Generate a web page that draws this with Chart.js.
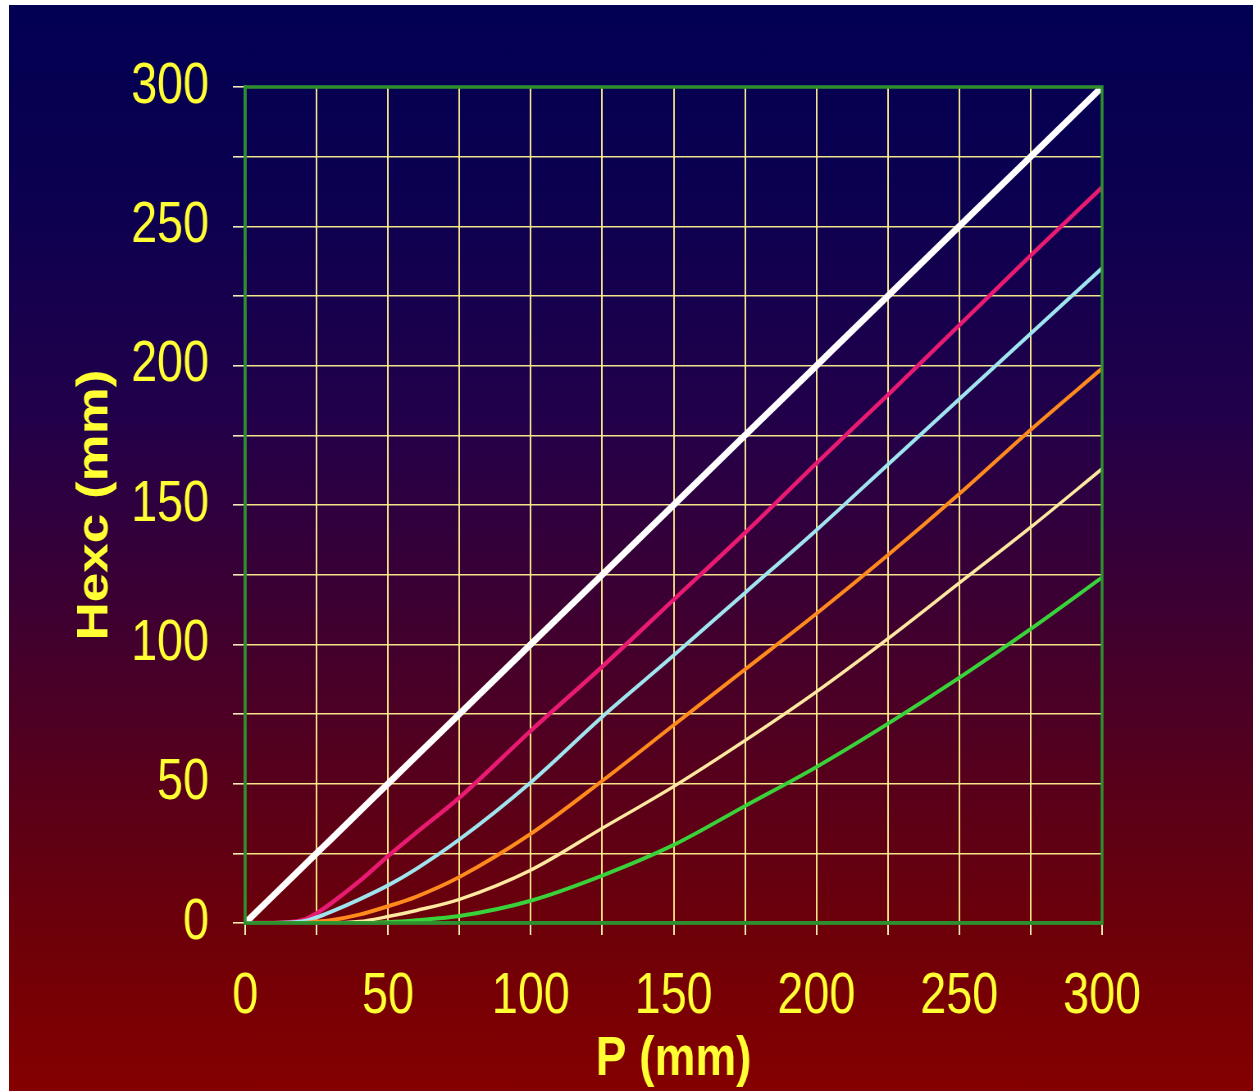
<!DOCTYPE html>
<html>
<head>
<meta charset="utf-8">
<script src="https://cdn.jsdelivr.net/npm/chart.js@4.4.1/dist/chart.umd.min.js"></script>
<style>
  html, body { margin: 0; padding: 0; background: #ffffff; overflow: hidden; }
  #wrap {
    position: absolute; left: 9px; top: 5px; width: 1244px; height: 1086px; overflow: hidden;
    background: linear-gradient(to bottom, #020052 0%, #0c0050 18%, #22004a 38%, #3c0032 55%, #58001a 72%, #6e0008 86%, #850000 100%);
  }
  /* le graphique d'origine est écrasé horizontalement */
  #squeeze { position: absolute; left: 0; top: 0; width: 1517px; height: 1086px; transform: scaleX(0.82); transform-origin: 0 0; }
</style>
</head>
<body>
<div id="wrap"><div id="squeeze"><canvas id="hexcChart" width="1517" height="1086"></canvas></div></div>
<script>
// P (mm) - valeurs communes de l'axe x
const pValues    = [0, 10, 20, 25, 30, 40, 50, 60, 75, 100, 125, 150, 175, 200, 225, 250, 275, 300];
// Hexc (mm) pour chaque courbe
const whiteLine  = [0, 10, 20, 25, 30, 40, 50, 60, 75, 100, 125, 150, 175, 200, 225, 250, 275, 300];
const pinkLine   = [0, 0, 1, 3.5, 7, 15, 24, 32.5, 45, 69, 92, 116, 140, 165, 189.5, 214.5, 239.5, 264];
const cyanLine   = [0, 0, 0.5, 2, 4, 8.5, 13.5, 19.5, 30, 50.5, 74, 96, 118.5, 141, 164.5, 188, 211.5, 235];
const orangeLine = [0, 0, 0, 0.5, 1, 3, 6, 9.5, 16.5, 32, 51, 71, 91, 111, 132, 154, 177, 199];
const yellowLine = [0, 0, 0, 0, 0, 0.5, 2.3, 4.5, 8.5, 19, 34, 49, 65.5, 83, 102, 122, 142, 163];
const greenLine  = [0, 0, 0, 0, 0, 0, 0.3, 1, 2.5, 8, 17, 28, 42, 56, 71.5, 88, 105.5, 124];

const tickLabels = [0, 50, 100, 150, 200, 250, 300];

function toPoints(ys) {
    return pValues.map((p, i) => ({ x: p, y: ys[i] }));
}

function serie(ys, color, width) {
    return {
        data: toPoints(ys),
        borderColor: color,
        borderWidth: width,
        pointRadius: 0,
        fill: false,
        cubicInterpolationMode: 'monotone'
    };
}

// cadre vert autour de la zone de tracé
const framePlugin = {
    id: 'frame',
    afterDraw(chart) {
        const a = chart.chartArea;
        const ctx = chart.ctx;
        ctx.save();
        ctx.strokeStyle = '#2f8f2f';
        ctx.lineWidth = 3.5;
        ctx.strokeRect(a.left, a.top, a.right - a.left, a.bottom - a.top);
        ctx.restore();
    }
};

const yellowTxt = '#ffff33';
const sans = "'Liberation Sans', Arial, sans-serif";
const gridCol = 'rgba(255,240,140,0.95)';

new Chart(document.getElementById('hexcChart').getContext('2d'), {
    type: 'line',
    data: {
        datasets: [
            serie(whiteLine, '#ffffff', 7),
            serie(greenLine, '#3ad23a', 4),
            serie(yellowLine, '#ffe9a0', 3.5),
            serie(orangeLine, '#ff8a1e', 4),
            serie(cyanLine, '#9fe4ee', 4),
            serie(pinkLine, '#e81a72', 4.5)
        ]
    },
    options: {
        responsive: false,
        animation: false,
        layout: { padding: { left: 0, top: 82, right: 184, bottom: 0 } },
        plugins: { legend: { display: false }, tooltip: { enabled: false } },
        scales: {
            x: {
                type: 'linear',
                min: 0, max: 300,
                afterFit(scale) { scale.height = 168; },
                border: { display: true, color: '#2f8f2f', width: 3.5 },
                grid: { color: gridCol, lineWidth: 2, tickLength: 12, tickColor: 'rgba(255,245,190,0.95)' },
                ticks: {
                    stepSize: 25,
                    maxRotation: 0,
                    autoSkip: false,
                    padding: 34,
                    color: yellowTxt,
                    font: { family: sans, size: 57, lineHeight: 1 },
                    callback: v => tickLabels.includes(v) ? String(v) : ''
                },
                title: {
                    display: true,
                    text: 'P (mm)',
                    color: yellowTxt,
                    font: { family: sans, size: 56, weight: 'bold', lineHeight: 1 },
                    padding: { top: 0, bottom: 3 }
                }
            },
            y: {
                min: 0, max: 300,
                afterFit(scale) { scale.width = 288; },
                border: { display: true, color: '#2f8f2f', width: 3.5 },
                grid: { color: gridCol, lineWidth: 1.6, tickLength: 15, tickColor: 'rgba(255,245,190,0.95)' },
                ticks: {
                    stepSize: 25,
                    autoSkip: false,
                    padding: 29,
                    color: yellowTxt,
                    font: { family: sans, size: 57, lineHeight: 1 },
                    callback: v => tickLabels.includes(v) ? String(v) : ''
                },
                title: {
                    display: true,
                    text: 'Hexc (mm)',
                    color: yellowTxt,
                    font: { family: sans, size: 53, weight: 'bold', lineHeight: 1 },
                    padding: { top: 79, bottom: 0 }
                }
            }
        }
    },
    plugins: [framePlugin]
});
</script>
</body>
</html>
